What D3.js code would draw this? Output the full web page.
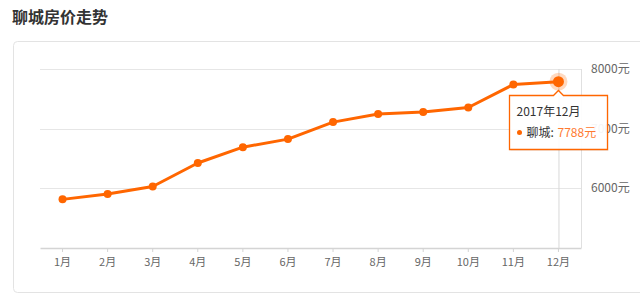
<!DOCTYPE html>
<html>
<head>
<meta charset="utf-8">
<script src="https://cdn.jsdelivr.net/npm/d3@7"></script>
<style>
  body { margin: 0; background: #fff; font-family: "Noto Sans CJK SC", "Microsoft YaHei", sans-serif; }
  svg { display: block; }
</style>
</head>
<body>
<div id="chart"></div>
<script>
// Chart data
const months = ['1月', '2月', '3月', '4月', '5月', '6月', '7月', '8月', '9月', '10月', '11月', '12月'];
const prices = [5815, 5905, 6030, 6425, 6690, 6825, 7110, 7245, 7280, 7355, 7740, 7788];
const yTicks = [6000, 7000, 8000];
const cityName = '聊城';
const tipLabel = '2017年12月';

const W = 640, H = 307;
const plot = { left: 40, right: 581, top: 69, bottom: 248 };
const orange = '#ff6600';

const svg = d3.select('#chart').append('svg')
    .attr('width', W)
    .attr('height', H);

// Title
svg.append('text')
    .attr('x', 12)
    .attr('y', 23)
    .style('font-size', '16px')
    .style('font-weight', 'bold')
    .attr('fill', '#333')
    .text('聊城房价走势');

// Card
svg.append('rect')
    .attr('x', 13.5)
    .attr('y', 41.5)
    .attr('width', 640)
    .attr('height', 251)
    .attr('rx', 4)
    .attr('fill', '#fff')
    .attr('stroke', '#e3e3e3');

// Scales
const x = d3.scaleBand()
    .domain(months)
    .range([plot.left, plot.right]);

const y = d3.scaleLinear()
    .domain([5000, 8000])
    .range([plot.bottom, plot.top]);

const cx = d => x(d) + x.bandwidth() / 2;

// Grid lines
svg.append('g')
    .selectAll('line')
    .data(yTicks)
    .join('line')
    .attr('x1', plot.left)
    .attr('x2', plot.right)
    .attr('y1', d => Math.round(y(d)) + 0.5)
    .attr('y2', d => Math.round(y(d)) + 0.5)
    .attr('stroke', '#e6e6e6');

// Right frame
svg.append('line')
    .attr('x1', plot.right + 0.5)
    .attr('x2', plot.right + 0.5)
    .attr('y1', plot.top)
    .attr('y2', plot.bottom)
    .attr('stroke', '#e0e0e0');

// Right y-axis labels
svg.append('g')
    .selectAll('text')
    .data(yTicks)
    .join('text')
    .attr('x', 591)
    .attr('y', d => y(d) + 4)
    .style('font-size', '12px')
    .attr('fill', '#666')
    .text(d => d + '元');

// Bottom axis
const xAxis = svg.append('g')
    .attr('transform', `translate(0,${plot.bottom})`)
    .call(d3.axisBottom(x).tickSize(4).tickPadding(6).tickSizeOuter(0));
xAxis.select('.domain').attr('stroke', '#d4d4d4').attr('stroke-width', 1.5);
xAxis.selectAll('.tick line').attr('stroke', '#d4d4d4');
xAxis.selectAll('.tick text')
    .attr('fill', '#666')
    .style('font-size', '11px')
    .style('font-family', '"Noto Sans CJK SC", sans-serif');

// Crosshair on last month
const last = months.length - 1;
svg.append('line')
    .attr('x1', cx(months[last]) + 0.5)
    .attr('x2', cx(months[last]) + 0.5)
    .attr('y1', plot.top)
    .attr('y2', plot.bottom)
    .attr('stroke', '#d8d8d8');

// Line
const line = d3.line()
    .x((d, i) => cx(months[i]))
    .y(d => y(d));

svg.append('path')
    .datum(prices)
    .attr('d', line)
    .attr('fill', 'none')
    .attr('stroke', orange)
    .attr('stroke-width', 3)
    .attr('stroke-linejoin', 'round');

svg.append('g')
    .selectAll('circle')
    .data(prices)
    .join('circle')
    .attr('cx', (d, i) => cx(months[i]))
    .attr('cy', d => y(d))
    .attr('r', 4)
    .attr('fill', orange);

// Highlighted point
svg.append('circle')
    .attr('cx', cx(months[last]))
    .attr('cy', y(prices[last]))
    .attr('r', 9)
    .attr('fill', orange)
    .attr('opacity', 0.25);
svg.append('circle')
    .attr('cx', cx(months[last]))
    .attr('cy', y(prices[last]))
    .attr('r', 5.5)
    .attr('fill', orange);

// Tooltip
const tip = { x: 509.5, y: 95.5, w: 98, h: 54 };
const ax = cx(months[last]);
const tipPath = d3.path();
tipPath.moveTo(tip.x, tip.y);
tipPath.lineTo(ax - 5, tip.y);
tipPath.lineTo(ax, tip.y - 5);
tipPath.lineTo(ax + 5, tip.y);
tipPath.lineTo(tip.x + tip.w, tip.y);
tipPath.lineTo(tip.x + tip.w, tip.y + tip.h);
tipPath.lineTo(tip.x, tip.y + tip.h);
tipPath.closePath();

svg.append('path')
    .attr('d', tipPath.toString())
    .attr('transform', 'translate(1,1.5)')
    .attr('fill', 'rgba(0,0,0,0.06)');

svg.append('path')
    .attr('d', tipPath.toString())
    .attr('fill', 'rgba(255,255,255,0.94)')
    .attr('stroke', orange)
    .attr('stroke-width', 1.3);

svg.append('text')
    .attr('x', tip.x + 7)
    .attr('y', tip.y + 20)
    .style('font-size', '12px')
    .attr('fill', '#333')
    .text(tipLabel);

svg.append('circle')
    .attr('cx', tip.x + 10)
    .attr('cy', tip.y + 37)
    .attr('r', 2.5)
    .attr('fill', orange);

svg.append('text')
    .attr('x', tip.x + 17)
    .attr('y', tip.y + 41)
    .style('font-size', '12px')
    .attr('fill', '#333')
    .text(cityName + ':');

svg.append('text')
    .attr('x', tip.x + 48)
    .attr('y', tip.y + 41)
    .style('font-size', '12px')
    .attr('fill', '#ff7a30')
    .text(prices[last] + '元');
</script>
</body>
</html>
